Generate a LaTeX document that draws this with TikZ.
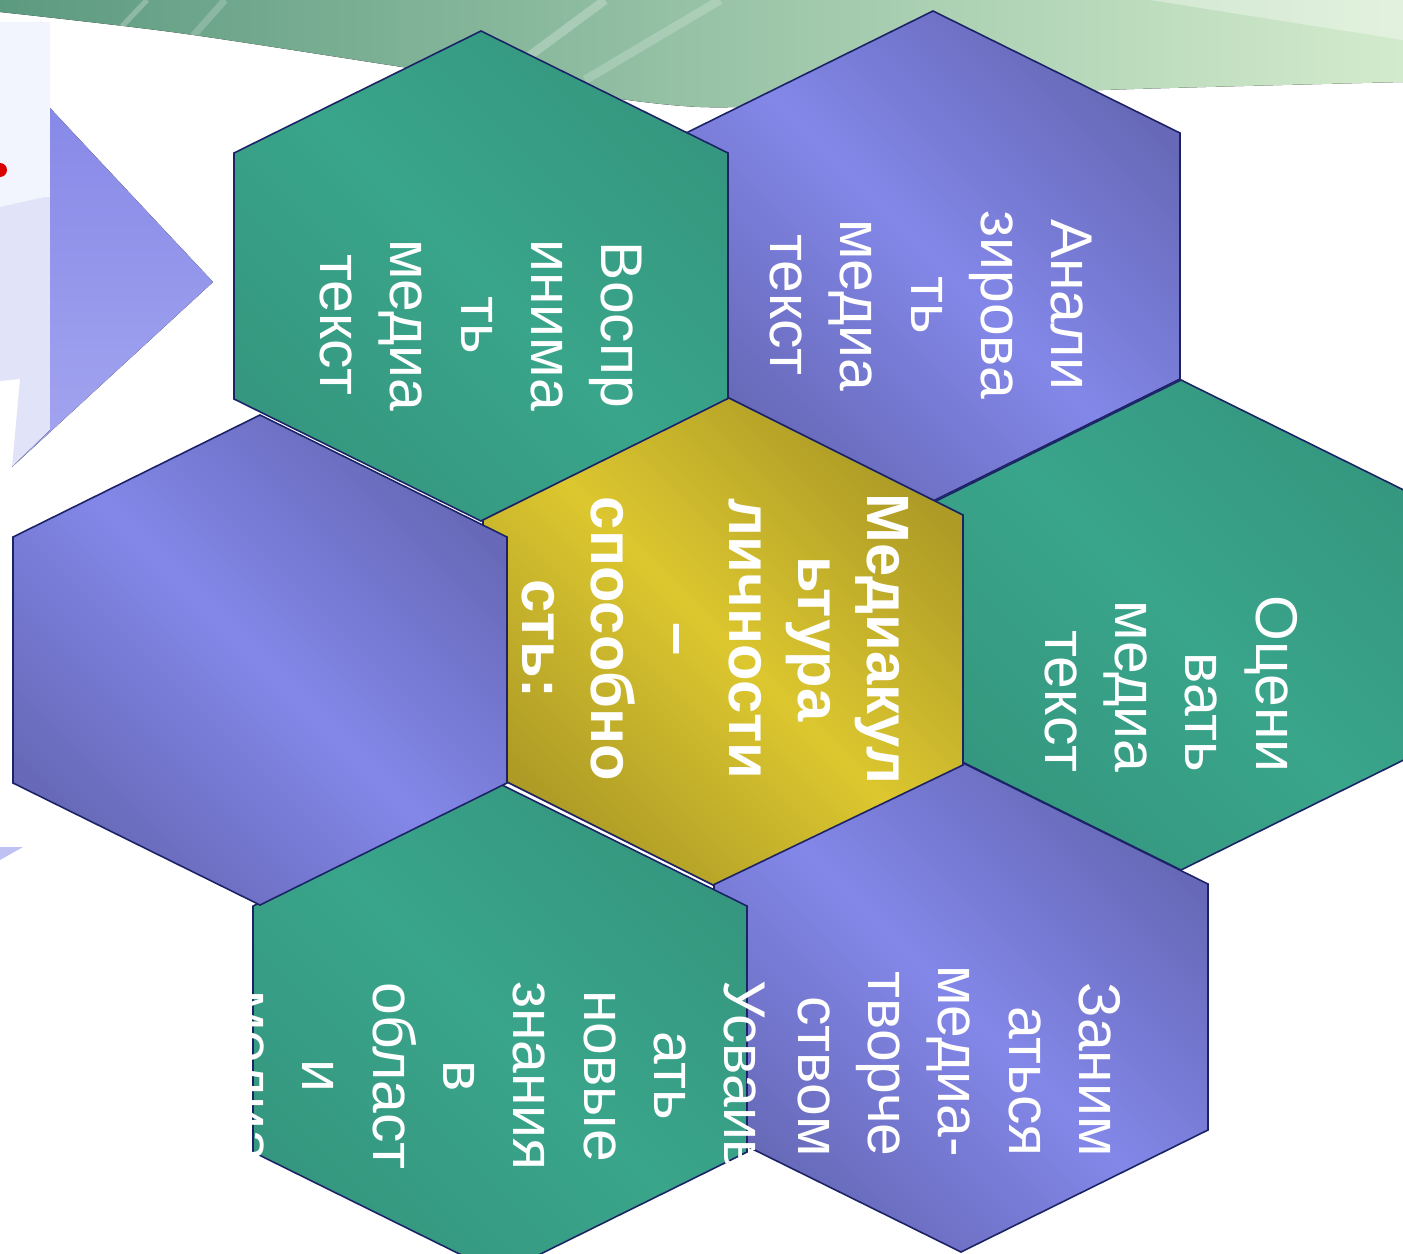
\documentclass[tikz,border=0pt]{standalone}
\usepackage{fontspec}
\setmainfont{Liberation Sans}
\usetikzlibrary{positioning,calc}

\definecolor{cellline}{HTML}{1B2266}
\definecolor{violetdark}{HTML}{6769B8}
\definecolor{violetlight}{HTML}{8387E8}
\definecolor{tealdark}{HTML}{35977F}
\definecolor{teallight}{HTML}{39A58B}
\definecolor{golddark}{HTML}{AD9B26}
\definecolor{goldlight}{HTML}{DCC72F}
\definecolor{swooshdark}{HTML}{5C9A80}
\definecolor{swooshmid}{HTML}{96CC94}
\definecolor{swooshlight}{HTML}{D3EBCC}
\definecolor{panellight}{HTML}{F2F5FE}
\definecolor{panellav}{HTML}{E1E3F8}
\definecolor{arrowtop}{HTML}{8789E7}
\definecolor{arrowbottom}{HTML}{A4A6F0}

% hexagon cell around a centre point, given in pixels
\newcommand{\hexcell}[2]{(#1,#2) ++(0,-245) -- ++(247,122) -- ++(0,246) -- ++(-247,122) -- ++(-247,-122) -- ++(0,-246) -- cycle}

\begin{document}
\begin{tikzpicture}[
        x=0.02cm, y=-0.02cm,
        % cell styles
        violetcell/.style={
            draw=cellline,
            line width=0.9pt,
            top color=violetdark,
            bottom color=violetdark,
            middle color=violetlight,
            shading angle=-45
        },
        tealcell/.style={
            draw=cellline,
            line width=0.9pt,
            top color=tealdark,
            bottom color=tealdark,
            middle color=teallight,
            shading angle=-45
        },
        goldcell/.style={
            draw=cellline,
            line width=0.9pt,
            top color=golddark,
            bottom color=golddark,
            middle color=goldlight,
            shading angle=-45
        },
        celltext/.style={
            text=white,
            rotate=-90,
            align=#1,
            inner sep=0pt,
            font=\fontsize{33.5}{40}\selectfont
        },
        celltext/.default=center
    ]
    \useasboundingbox (0,0) rectangle (1403,1254);

    % Background swoosh
    \begin{scope}
        \clip (0,0) -- (1403,0) -- plot[smooth] coordinates {(1403,82) (1103,90) (880,100) (700,107) (536,87) (402,67) (179,33) (0,12)} -- cycle;
        \fill[left color=swooshdark, middle color=swooshmid, right color=swooshlight] (0,0) rectangle (1403,110);
        \draw[white, opacity=0.25, line width=3pt] (112,37) -- (147,0);
        \draw[white, opacity=0.2, line width=4pt] (185,45) -- (225,0);
        \draw[white, opacity=0.25, line width=5pt] (528,57) -- (605,0);
        \draw[white, opacity=0.2, line width=5pt] (585,80) -- (720,0);
        \fill[white, opacity=0.35] (1150,0) -- (1403,0) -- (1403,40) -- cycle;
    \end{scope}

    % Left panel
    \fill[panellight] (0,22) rectangle (50,207);
    \fill[panellav] (0,207) -- (45,197) -- (50,197) -- (50,432) -- (12,467) -- (20,379) -- (0,381) -- cycle;
    \fill[top color=arrowtop, bottom color=arrowbottom] (50,108) -- (213,282) -- (12,467) -- (50,430) -- cycle;
    \fill[red!85!black] (0,170) circle[radius=7];
    \fill[arrowbottom!70!white] (0,847) -- (23,847) -- (0,860) -- cycle;

    % Analyse
    \path[violetcell] \hexcell{933}{256};
    \node[celltext] (analyse) at (931,305) {Анали\\зирова\\ть\\медиа\\текст};

    % Evaluate
    \path[tealcell] \hexcell{1181}{625};
    \node[celltext=right] (evaluate) at (1171,684) {Оцени\\вать\\медиа\\текст};

    % Perceive
    \path[tealcell] \hexcell{481}{276};
    \node[celltext] (perceive) at (481,325) {Воспр\\инима\\ть\\медиа\\текст};

    % Create
    \path[violetcell] \hexcell{961}{1007};
    \node[celltext=right] (create) at (959,1061) {Заним\\аться\\медиа-\\творче\\ством};

    % Learn
    \path[tealcell] \hexcell{500}{1029};
    \begin{scope}
        \clip (251,800) -- (251,1152) -- (500,1275) -- (748,1152) -- (900,1077) -- (900,800) -- cycle;
        \node[celltext] (learn) at (493,1076) {Усваив\\ать\\новые\\знания\\в\\област\\и\\медиа};
    \end{scope}

    % Core
    \path[goldcell] (729,398) -- (963,515) -- (963,765) -- (713,885) -- (483,770) -- (483,520) -- cycle;
    \node[celltext, font=\fontsize{34}{39.3}\selectfont\bfseries] (core) at (715,639) {Медиакул\\ьтура\\личности\\–\\способно\\сть:};

    % Empty cell
    \path[violetcell] \hexcell{260}{660};

\end{tikzpicture}
\end{document}
